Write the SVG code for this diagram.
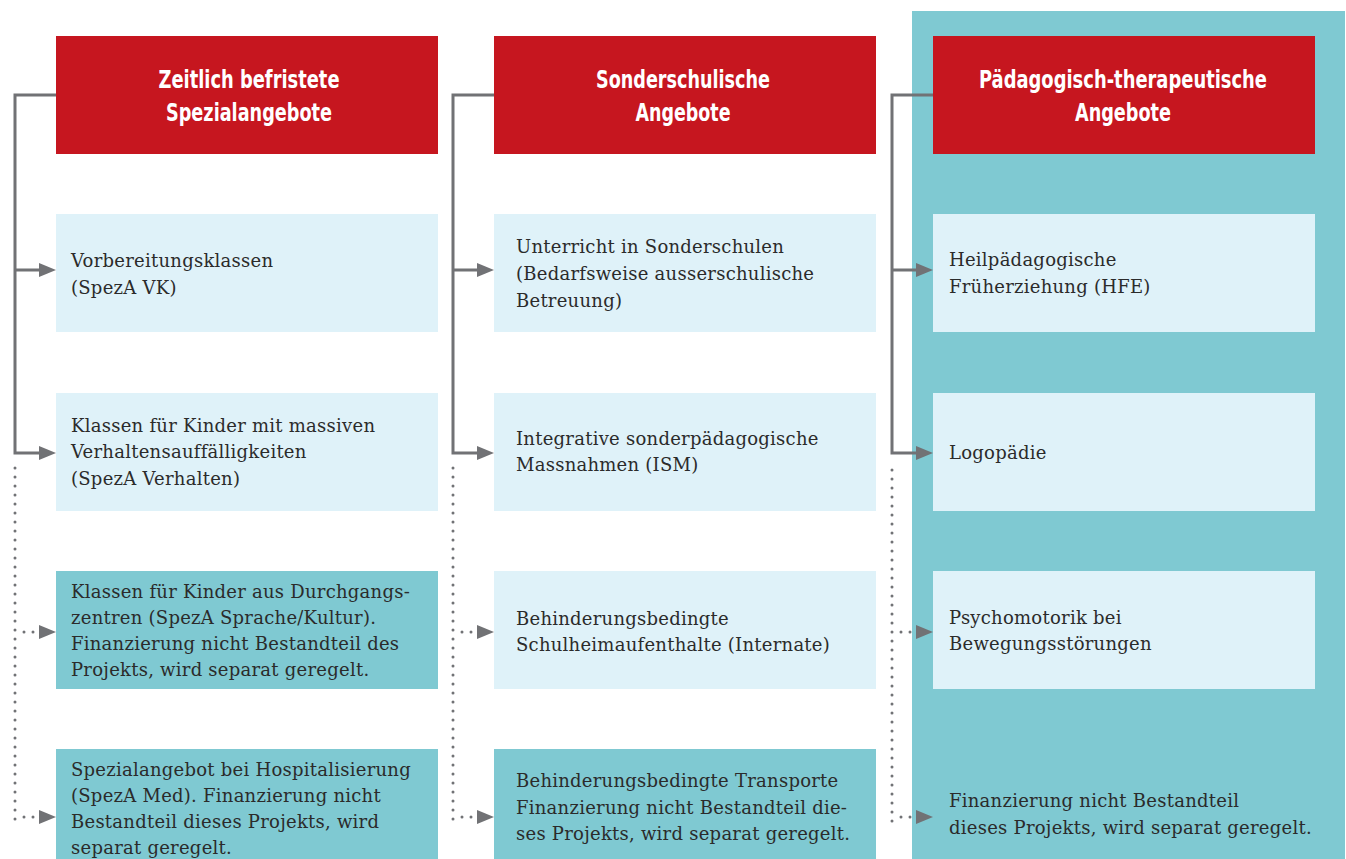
<svg xmlns="http://www.w3.org/2000/svg" width="1346" height="859" viewBox="0 0 1346 859">
<style>
.bg{fill:#ffffff}
.panel{fill:#7fc9d2}
.hdr{fill:#c6161f}
.lt{fill:#dff2f9}
.tl{fill:#7fc9d2}
.ht{font-family:"DejaVu Sans Condensed","Liberation Sans Narrow","DejaVu Sans",sans-serif;font-stretch:condensed;font-weight:bold;font-size:24px;fill:#ffffff;text-anchor:middle}
.bt{font-family:"DejaVu Serif","Liberation Serif",serif;font-size:18px;fill:#2b2b2b;letter-spacing:0.25px}
.sol{fill:none;stroke:#717275;stroke-width:3}
.dot{fill:none;stroke:#717275;stroke-width:3;stroke-linecap:round;stroke-dasharray:0 9}
.ah{fill:#717275}
</style>
<defs>
<path id="arr" d="M0,-7 L17,0 L0,7 Z"/>
</defs>
<rect class="bg" x="0" y="0" width="1346" height="859"/>
<rect class="panel" x="912" y="11" width="433" height="848"/>

<g id="connectors">
  <!-- column 1 -->
  <path class="sol" d="M56,95 H15 V453 H40 M15,270 H40"/>
  <use href="#arr" x="39" y="270" class="ah"/>
  <use href="#arr" x="39" y="453" class="ah"/>
  <path class="dot" d="M15,468 V820"/>
  <path class="dot" d="M24,632 H38"/>
  <path class="dot" d="M24,817 H38"/>
  <use href="#arr" x="39" y="632" class="ah"/>
  <use href="#arr" x="39" y="817" class="ah"/>
  <!-- column 2 -->
  <path class="sol" d="M494,95 H453 V453 H478 M453,270 H478"/>
  <use href="#arr" x="477" y="270" class="ah"/>
  <use href="#arr" x="477" y="453" class="ah"/>
  <path class="dot" d="M453,468 V820"/>
  <path class="dot" d="M462,632 H476"/>
  <path class="dot" d="M462,817 H476"/>
  <use href="#arr" x="477" y="632" class="ah"/>
  <use href="#arr" x="477" y="817" class="ah"/>
  <!-- column 3 -->
  <path class="sol" d="M933,95 H892 V453 H917 M892,270 H917"/>
  <use href="#arr" x="916" y="270" class="ah"/>
  <use href="#arr" x="916" y="453" class="ah"/>
  <path class="dot" d="M892,470 V822"/>
  <path class="dot" d="M901,632 H915"/>
  <path class="dot" d="M901,817 H915"/>
  <use href="#arr" x="916" y="632" class="ah"/>
  <use href="#arr" x="916" y="817" class="ah"/>
</g>

<g id="h1"><rect class="hdr" x="56" y="36" width="382" height="118"/>
<text class="ht" x="249" y="88" textLength="181" lengthAdjust="spacingAndGlyphs">Zeitlich befristete</text><text class="ht" x="249" y="121" textLength="166" lengthAdjust="spacingAndGlyphs">Spezialangebote</text></g>
<g id="h2"><rect class="hdr" x="494" y="36" width="382" height="118"/>
<text class="ht" x="683" y="88" textLength="174" lengthAdjust="spacingAndGlyphs">Sonderschulische</text><text class="ht" x="683" y="121" textLength="95" lengthAdjust="spacingAndGlyphs">Angebote</text></g>
<g id="h3"><rect class="hdr" x="933" y="36" width="382" height="118"/>
<text class="ht" x="1123" y="88" textLength="288" lengthAdjust="spacingAndGlyphs">Pädagogisch-therapeutische</text><text class="ht" x="1123" y="121" textLength="96" lengthAdjust="spacingAndGlyphs">Angebote</text></g>

<g id="c1r1"><rect class="lt" x="56" y="214" width="382" height="118"/>
<text class="bt" x="71" y="267">Vorbereitungsklassen</text><text class="bt" x="71" y="294">(SpezA VK)</text></g>
<g id="c1r2"><rect class="lt" x="56" y="393" width="382" height="118"/>
<text class="bt" x="71" y="432">Klassen für Kinder mit massiven</text><text class="bt" x="71" y="458">Verhaltensauffälligkeiten</text><text class="bt" x="71" y="485">(SpezA Verhalten)</text></g>
<g id="c1r3"><rect class="tl" x="56" y="571" width="382" height="118"/>
<text class="bt" x="71" y="598">Klassen für Kinder aus Durchgangs-</text><text class="bt" x="71" y="624">zentren (SpezA Sprache/Kultur).</text><text class="bt" x="71" y="650">Finanzierung nicht Bestandteil des</text><text class="bt" x="71" y="676">Projekts, wird separat geregelt.</text></g>
<g id="c1r4"><rect class="tl" x="56" y="749" width="382" height="118"/>
<text class="bt" x="71" y="776">Spezialangebot bei Hospitalisierung</text><text class="bt" x="71" y="802">(SpezA Med). Finanzierung nicht</text><text class="bt" x="71" y="828">Bestandteil dieses Projekts, wird</text><text class="bt" x="71" y="854">separat geregelt.</text></g>

<g id="c2r1"><rect class="lt" x="494" y="214" width="382" height="118"/>
<text class="bt" x="516" y="253">Unterricht in Sonderschulen</text><text class="bt" x="516" y="280">(Bedarfsweise ausserschulische</text><text class="bt" x="516" y="307">Betreuung)</text></g>
<g id="c2r2"><rect class="lt" x="494" y="393" width="382" height="118"/>
<text class="bt" x="516" y="445">Integrative sonderpädagogische</text><text class="bt" x="516" y="471">Massnahmen (ISM)</text></g>
<g id="c2r3"><rect class="lt" x="494" y="571" width="382" height="118"/>
<text class="bt" x="516" y="625">Behinderungsbedingte</text><text class="bt" x="516" y="651">Schulheimaufenthalte (Internate)</text></g>
<g id="c2r4"><rect class="tl" x="494" y="749" width="382" height="118"/>
<text class="bt" x="516" y="787">Behinderungsbedingte Transporte</text><text class="bt" x="516" y="814">Finanzierung nicht Bestandteil die-</text><text class="bt" x="516" y="840">ses Projekts, wird separat geregelt.</text></g>

<g id="c3r1"><rect class="lt" x="933" y="214" width="382" height="118"/>
<text class="bt" x="949" y="266">Heilpädagogische</text><text class="bt" x="949" y="293">Früherziehung (HFE)</text></g>
<g id="c3r2"><rect class="lt" x="933" y="393" width="382" height="118"/>
<text class="bt" x="949" y="459">Logopädie</text></g>
<g id="c3r3"><rect class="lt" x="933" y="571" width="382" height="118"/>
<text class="bt" x="949" y="624">Psychomotorik bei</text><text class="bt" x="949" y="650">Bewegungsstörungen</text></g>
<g id="c3r4">
<text class="bt" x="949" y="807">Finanzierung nicht Bestandteil</text><text class="bt" x="949" y="834">dieses Projekts, wird separat geregelt.</text></g>
</svg>
